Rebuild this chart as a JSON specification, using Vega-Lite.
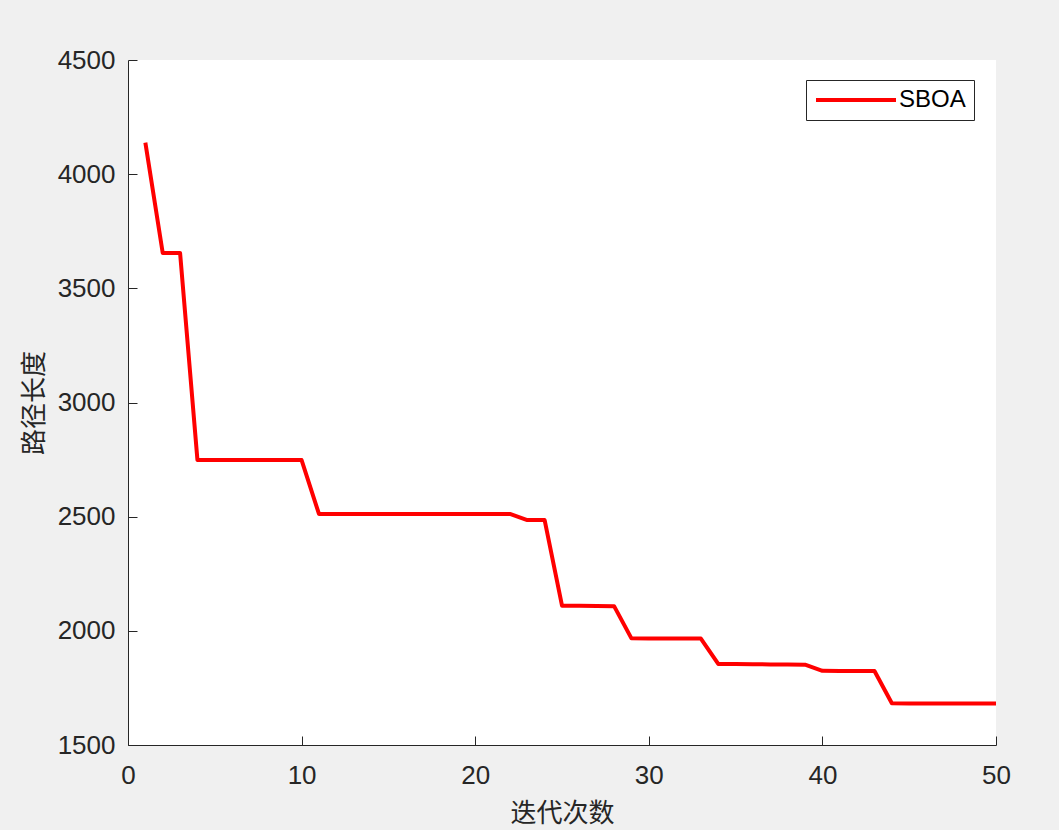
{
  "$schema": "https://vega.github.io/schema/vega-lite/v6.json",
  "width": 868,
  "height": 685,
  "autosize": "none",
  "padding": {"left": 128, "top": 60, "right": 63, "bottom": 85},
  "background": "#f0f0f0",
  "config": {
    "view": {"fill": "white", "stroke": null},
    "axis": {
      "grid": false,
      "domainColor": "#262626",
      "domainWidth": 1,
      "tickColor": "#262626",
      "labelColor": "#262626",
      "labelFont": "Liberation Sans",
      "labelFontSize": 26,
      "titleFont": "Noto Sans CJK SC",
      "titleFontSize": 26,
      "titleFontWeight": "normal",
      "titleColor": "#262626"
    }
  },
  "data": {
    "values": [
      {"iter": 1, "len": 4138, "alg": "SBOA"},
      {"iter": 2, "len": 3655, "alg": "SBOA"},
      {"iter": 3, "len": 3655, "alg": "SBOA"},
      {"iter": 4, "len": 2748, "alg": "SBOA"},
      {"iter": 5, "len": 2748, "alg": "SBOA"},
      {"iter": 6, "len": 2748, "alg": "SBOA"},
      {"iter": 7, "len": 2748, "alg": "SBOA"},
      {"iter": 8, "len": 2748, "alg": "SBOA"},
      {"iter": 9, "len": 2748, "alg": "SBOA"},
      {"iter": 10, "len": 2748, "alg": "SBOA"},
      {"iter": 11, "len": 2512, "alg": "SBOA"},
      {"iter": 12, "len": 2512, "alg": "SBOA"},
      {"iter": 13, "len": 2512, "alg": "SBOA"},
      {"iter": 14, "len": 2512, "alg": "SBOA"},
      {"iter": 15, "len": 2512, "alg": "SBOA"},
      {"iter": 16, "len": 2512, "alg": "SBOA"},
      {"iter": 17, "len": 2512, "alg": "SBOA"},
      {"iter": 18, "len": 2512, "alg": "SBOA"},
      {"iter": 19, "len": 2512, "alg": "SBOA"},
      {"iter": 20, "len": 2512, "alg": "SBOA"},
      {"iter": 21, "len": 2512, "alg": "SBOA"},
      {"iter": 22, "len": 2512, "alg": "SBOA"},
      {"iter": 23, "len": 2485, "alg": "SBOA"},
      {"iter": 24, "len": 2485, "alg": "SBOA"},
      {"iter": 25, "len": 2110, "alg": "SBOA"},
      {"iter": 26, "len": 2110, "alg": "SBOA"},
      {"iter": 27, "len": 2109, "alg": "SBOA"},
      {"iter": 28, "len": 2108, "alg": "SBOA"},
      {"iter": 29, "len": 1967, "alg": "SBOA"},
      {"iter": 30, "len": 1966, "alg": "SBOA"},
      {"iter": 31, "len": 1966, "alg": "SBOA"},
      {"iter": 32, "len": 1966, "alg": "SBOA"},
      {"iter": 33, "len": 1966, "alg": "SBOA"},
      {"iter": 34, "len": 1855, "alg": "SBOA"},
      {"iter": 35, "len": 1855, "alg": "SBOA"},
      {"iter": 36, "len": 1854, "alg": "SBOA"},
      {"iter": 37, "len": 1853, "alg": "SBOA"},
      {"iter": 38, "len": 1853, "alg": "SBOA"},
      {"iter": 39, "len": 1852, "alg": "SBOA"},
      {"iter": 40, "len": 1825, "alg": "SBOA"},
      {"iter": 41, "len": 1824, "alg": "SBOA"},
      {"iter": 42, "len": 1824, "alg": "SBOA"},
      {"iter": 43, "len": 1824, "alg": "SBOA"},
      {"iter": 44, "len": 1683, "alg": "SBOA"},
      {"iter": 45, "len": 1682, "alg": "SBOA"},
      {"iter": 46, "len": 1682, "alg": "SBOA"},
      {"iter": 47, "len": 1682, "alg": "SBOA"},
      {"iter": 48, "len": 1682, "alg": "SBOA"},
      {"iter": 49, "len": 1682, "alg": "SBOA"},
      {"iter": 50, "len": 1682, "alg": "SBOA"}
    ]
  },
  "mark": {"type": "line", "strokeWidth": 4, "strokeCap": "butt", "strokeJoin": "round"},
  "encoding": {
    "x": {
      "field": "iter",
      "type": "quantitative",
      "scale": {"domain": [0, 50], "nice": false, "zero": false},
      "axis": {"values": [0, 10, 20, 30, 40, 50], "format": "d", "title": "迭代次数", "ticks": true, "tickSize": -9, "tickWidth": 1, "labelPadding": 26, "titlePadding": 12, "labelFlush": false}
    },
    "y": {
      "field": "len",
      "type": "quantitative",
      "scale": {"domain": [1500, 4500], "nice": false, "zero": false},
      "axis": {"values": [1500, 2000, 2500, 3000, 3500, 4000, 4500], "format": "d", "title": "路径长度", "ticks": true, "tickSize": -9, "tickWidth": 1, "labelPadding": 22, "titlePadding": 10, "labelFlush": false}
    },
    "color": {
      "field": "alg",
      "type": "nominal",
      "scale": {"range": ["#ff0000"]},
      "legend": {
        "title": null,
        "orient": "none",
        "legendX": 678,
        "legendY": 20,
        "strokeColor": "#262626",
        "fillColor": "white",
        "padding": 8,
        "symbolType": "M-4,0L4,0",
        "symbolSize": 400,
        "symbolOffset": 30,
        "symbolStrokeWidth": 4,
        "labelFont": "Liberation Sans",
        "labelFontSize": 24,
        "labelColor": "black",
        "labelOffset": 31
      }
    }
  }
}
